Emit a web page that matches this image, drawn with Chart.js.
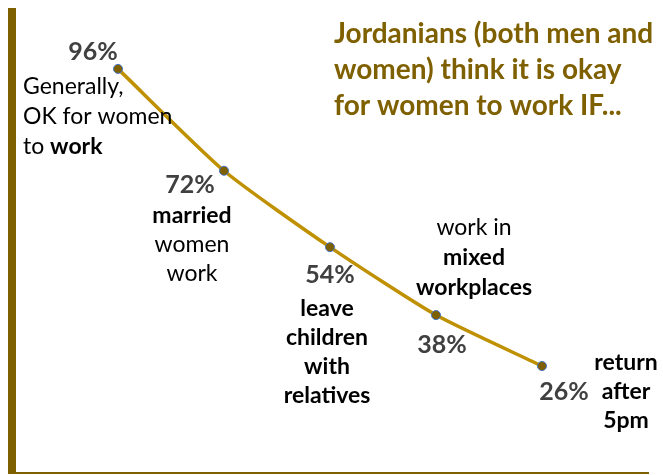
<!DOCTYPE html>
<html>
<head>
<meta charset="utf-8">
<script src="https://cdn.jsdelivr.net/npm/chart.js@4"></script>
<style>
  html, body { margin: 0; padding: 0; background: #fff; }
  #wrap { width: 663px; height: 475px; position: relative; }
</style>
</head>
<body>
<div id="wrap"><canvas id="chart"></canvas></div>
<script>
// Data
const positions = [1, 2, 3, 4, 5];
const shares = [96, 72, 54, 38, 26];
const valueLabels = ['96%', '72%', '54%', '38%', '26%'];
const titleLines = ['Jordanians (both men and', 'women) think it is okay', 'for women to work IF...'];

// Each caption is a list of lines, each line a list of [text, bold] runs
const captions = [
  [[['Generally,', false]], [['OK for women', false]], [['to ', false], ['work', true]]],
  [[['married', true]], [['women', false]], [['work', false]]],
  [[['leave', true]], [['children', true]], [['with', true]], [['relatives', true]]],
  [[['work in', false]], [['mixed', true]], [['workplaces', true]]],
  [[['return', true]], [['after', true]], [['5pm', true]]]
];

const GOLD_DARK = '#7F6000';
const GOLD = '#BF9000';
const FONT = 'Lato, "Open Sans", sans-serif';

// offsets of labels from their point, in pixels
const valueOffsets = [[-25, -17], [-34, 14], [0, 28], [6, 30], [22, 26]];
const captionSpots = [
  { dx: -95, dy: 18, align: 'left', gap: 30 },
  { dx: -32, dy: 45, align: 'center', gap: 29 },
  { dx: -3, dy: 61, align: 'center', gap: 29 },
  { dx: 38, dy: -88, align: 'center', gap: 30 },
  { dx: 84, dy: -3, align: 'center', gap: 29 }
];

function drawRuns(ctx, runs, x, y, align, size) {
  const widths = runs.map(r => {
    ctx.font = (r[1] ? 'bold ' : '') + size + 'px ' + FONT;
    return ctx.measureText(r[0]).width;
  });
  const total = widths.reduce((a, b) => a + b, 0);
  let cx = align === 'center' ? x - total / 2 : x;
  ctx.textAlign = 'left';
  runs.forEach((r, i) => {
    ctx.font = (r[1] ? 'bold ' : '') + size + 'px ' + FONT;
    ctx.fillText(r[0], cx, y);
    cx += widths[i];
  });
}

const labelPlugin = {
  id: 'labels',
  afterDatasetsDraw(chart) {
    const ctx = chart.ctx;
    const xs = chart.scales.x;
    const ys = chart.scales.y;
    ctx.save();
    ctx.textBaseline = 'middle';

    // title block
    ctx.fillStyle = GOLD_DARK;
    ctx.font = 'bold 28px ' + FONT;
    ctx.textAlign = 'left';
    titleLines.forEach((t, i) => ctx.fillText(t, 334, 34 + i * 36));

    shares.forEach((v, i) => {
      const px = xs.getPixelForValue(positions[i]);
      const py = ys.getPixelForValue(v);

      ctx.fillStyle = '#404040';
      ctx.font = 'bold 25px ' + FONT;
      ctx.textAlign = 'center';
      ctx.fillText(valueLabels[i], px + valueOffsets[i][0], py + valueOffsets[i][1]);

      const spot = captionSpots[i];
      ctx.fillStyle = '#000';
      captions[i].forEach((line, j) => {
        drawRuns(ctx, line, px + spot.dx, py + spot.dy + j * spot.gap, spot.align, 23);
      });
    });
    ctx.restore();
  }
};

new Chart(document.getElementById('chart'), {
  type: 'line',
  data: {
    datasets: [{
      data: positions.map((p, i) => ({ x: p, y: shares[i] })),
      borderColor: GOLD,
      borderWidth: 3.5,
      tension: 0.2,
      pointRadius: 4.5,
      pointBackgroundColor: GOLD_DARK,
      pointBorderColor: '#4472C4',
      pointBorderWidth: 1,
      fill: false,
      clip: false
    }]
  },
  options: {
    responsive: true,
    maintainAspectRatio: false,
    animation: false,
    events: [],
    layout: { autoPadding: false, padding: { left: 12, right: 15, top: 12, bottom: 2 } },
    plugins: {
      legend: { display: false },
      tooltip: { enabled: false }
    },
    scales: {
      x: {
        type: 'linear',
        min: 0,
        max: 6,
        grid: { display: false, drawTicks: false },
        ticks: { display: false, padding: 0 },
        border: { color: GOLD_DARK, width: 2 },
        afterFit(scale) { scale.height = 0; }
      },
      y: {
        min: 0.8,
        max: 109.4,
        grid: { display: false, drawTicks: false },
        ticks: { display: false, padding: 0 },
        border: { color: GOLD_DARK, width: 8 },
        afterFit(scale) { scale.width = 0; }
      }
    }
  },
  plugins: [labelPlugin]
});
</script>
</body>
</html>
